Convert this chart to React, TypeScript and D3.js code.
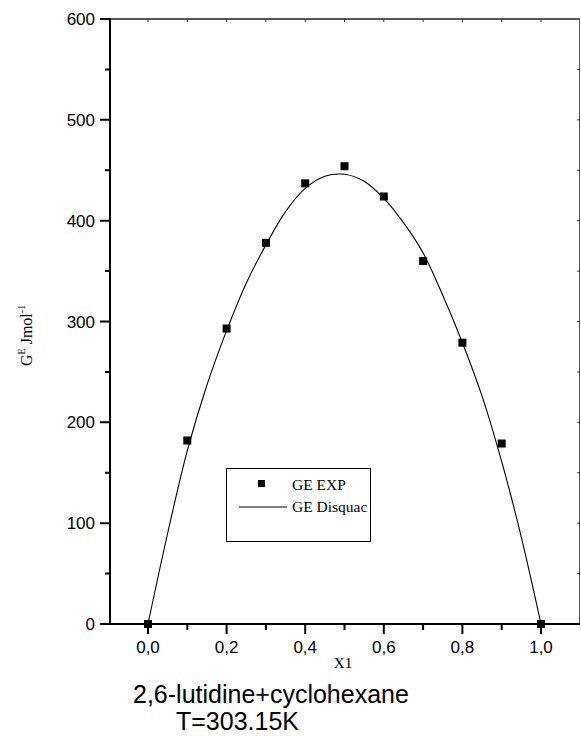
import React, { useEffect, useRef } from 'react';
import * as d3 from 'd3';

// experimental GE points (x1, J/mol)
const expX = [0.0, 0.1, 0.2, 0.3, 0.4, 0.5, 0.6, 0.7, 0.8, 0.9, 1.0];
const expGE = [0, 182, 293, 378, 437, 454, 424, 360, 279, 179, 0];

// DISQUAC curve
const fitX = [0.0, 0.05, 0.1, 0.15, 0.2, 0.25, 0.3, 0.35, 0.4, 0.45, 0.5, 0.55, 0.6, 0.65, 0.7, 0.75, 0.8, 0.85, 0.9, 0.95, 1.0];
const fitGE = [0, 90, 172, 237, 291, 338, 376, 409, 432, 444, 446, 439, 422, 398, 368, 326, 279, 226, 161, 86, 0];

const xMajor = [0, 0.2, 0.4, 0.6, 0.8, 1.0];
const xMinor = [0.1, 0.3, 0.5, 0.7, 0.9];
const yMajor = [0, 100, 200, 300, 400, 500, 600];
const yMinor = [50, 150, 250, 350, 450, 550];

const W = 581;
const H = 736;

function Chart() {
  const ref = useRef<SVGSVGElement | null>(null);

  useEffect(() => {
    const svg = d3.select(ref.current);
    svg.selectAll('*').remove();

    const x = d3.scaleLinear().domain([0, 1]).range([148, 541]);
    const y = d3.scaleLinear().domain([0, 600]).range([624, 19]);
    const x0 = 110;
    const x1 = 580;
    const yTop = y(600);
    const yBot = y(0);
    const arial = 'Arial, "Liberation Sans", sans-serif';
    const times = '"Times New Roman", "Liberation Serif", serif';
    const fmtX = (d: number) => d3.format('.1f')(d).replace('.', ',');

    // tick marks as one path per axis
    const leftTicks = yMajor.map(d => `M${x0 - 10},${y(d)}H${x0}`).join('')
      + yMinor.map(d => `M${x0 - 5},${y(d)}H${x0}`).join('');
    const bottomTicks = xMajor.map(d => `M${x(d)},${yBot}V${yBot + 10}`).join('')
      + xMinor.map(d => `M${x(d)},${yBot}V${yBot + 6}`).join('');
    const topTicks = xMajor.concat(xMinor).map(d => `M${x(d)},${yTop}V${yTop + 3}`).join('');
    const rightTicks = yMinor.concat(yMajor.slice(1, -1)).map(d => `M${x1 - 3},${y(d)}H${x1}`).join('');

    // top + right frame (thin)
    svg.append('path').attr('d', `M${x0},${yTop}H${x1}`)
      .attr('stroke', '#222').attr('stroke-width', 1.3);
    svg.append('path').attr('d', `M${x1 - 0.5},${yTop}V${yBot}`)
      .attr('stroke', '#555').attr('stroke-width', 1);
    svg.append('path').attr('d', topTicks + rightTicks)
      .attr('fill', 'none').attr('stroke', '#333').attr('stroke-width', 1);

    // left + bottom axes
    svg.append('path').attr('d', `M${x0},${yTop - 1}V${yBot}H${x1}`)
      .attr('fill', 'none').attr('stroke', '#000').attr('stroke-width', 2);
    svg.append('path').attr('d', leftTicks + bottomTicks)
      .attr('fill', 'none').attr('stroke', '#000').attr('stroke-width', 2);

    svg.selectAll('.ylab').data(yMajor).enter().append('text')
      .attr('x', x0 - 15).attr('y', d => y(d)).attr('dy', '0.36em')
      .attr('text-anchor', 'end')
      .attr('font-family', arial).attr('font-size', 17)
      .text(d => String(d));
    svg.selectAll('.xlab').data(xMajor).enter().append('text')
      .attr('x', d => x(d)).attr('y', 653)
      .attr('text-anchor', 'middle')
      .attr('font-family', arial).attr('font-size', 17)
      .text(d => fmtX(d));

    // DISQUAC curve
    const line = d3.line<number>()
      .x((_, i) => x(fitX[i]))
      .y(d => y(d))
      .curve(d3.curveCatmullRom.alpha(0.5));
    svg.append('path').datum(fitGE).attr('d', line)
      .attr('fill', 'none').attr('stroke', '#000').attr('stroke-width', 1.1);

    // experimental squares
    svg.selectAll('.pt').data(expGE).enter().append('rect')
      .attr('x', (_, i) => x(expX[i]) - 4)
      .attr('y', d => y(d) - 4)
      .attr('width', 8).attr('height', 8)
      .attr('fill', '#000');

    // legend
    const lg = svg.append('g');
    lg.append('rect').attr('x', 226.5).attr('y', 468.5).attr('width', 144).attr('height', 73)
      .attr('fill', 'none').attr('stroke', '#000').attr('stroke-width', 1);
    lg.append('rect').attr('x', 258).attr('y', 480).attr('width', 7).attr('height', 7).attr('fill', '#000');
    lg.append('text').attr('x', 292).attr('y', 490).text('GE EXP')
      .attr('font-family', times).attr('font-size', 15.5);
    lg.append('line').attr('x1', 239).attr('x2', 287).attr('y1', 507).attr('y2', 507)
      .attr('stroke', '#000').attr('stroke-width', 1);
    lg.append('text').attr('x', 292).attr('y', 512).text('GE Disquac')
      .attr('font-family', times).attr('font-size', 15.5);

    // y-axis label
    const yl = svg.append('text')
      .attr('transform', 'translate(32,366) rotate(-90)')
      .attr('font-family', times).attr('font-size', 16);
    yl.append('tspan').text('G');
    yl.append('tspan').text('E').attr('font-size', 10).attr('dy', -7);
    yl.append('tspan').text(' Jmol').attr('dy', 7);
    yl.append('tspan').text('-1').attr('font-size', 10).attr('dy', -7);

    // x-axis label and caption
    svg.append('text').attr('x', 343).attr('y', 668).attr('text-anchor', 'middle')
      .attr('font-family', times).attr('font-size', 15).text('X1');
    svg.append('text').attr('x', 133).attr('y', 703)
      .attr('font-family', arial).attr('font-size', 25).text('2,6-lutidine+cyclohexane');
    svg.append('text').attr('x', 176).attr('y', 730)
      .attr('font-family', arial).attr('font-size', 25).text('T=303.15K');
  }, []);

  return (
    <svg ref={ref} width={W} height={H}
      style={{ position: 'absolute', left: 0, top: 0, background: '#fff' }} />
  );
}

export default function App() {
  return <Chart />;
}
